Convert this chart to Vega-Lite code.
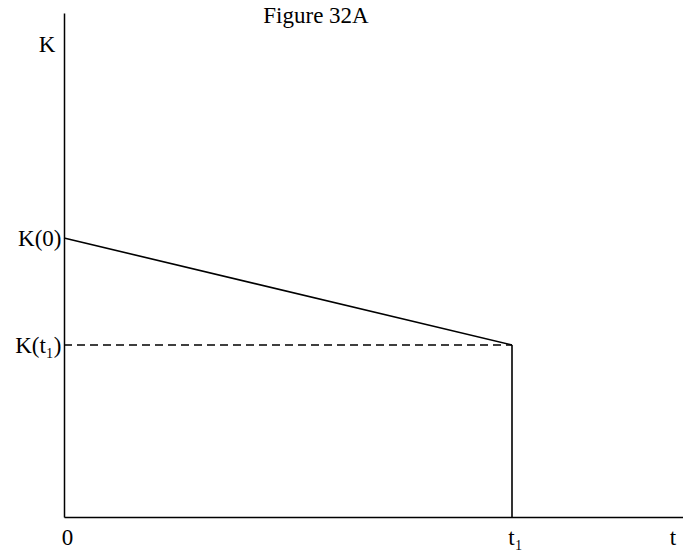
{
  "$schema": "https://vega.github.io/schema/vega-lite/v6.json",
  "width": 619,
  "height": 504,
  "autosize": {"type": "none"},
  "padding": {"left": 64, "top": 13, "right": 0, "bottom": 33},
  "background": "white",
  "config": {"view": {"stroke": null}, "font": "Liberation Serif"},
  "datasets": {
    "segs": [
      {"seg": "decline", "t0": 0, "k0": 279, "t1": 448, "k1": 172},
      {"seg": "vertical", "t0": 448, "k0": 172, "t1": 448, "k1": 0}
    ],
    "dash": [
      {"seg": "level", "t0": 0, "k0": 172, "t1": 448, "k1": 172}
    ],
    "labels": [
      {"txt": "Figure 32A", "tx": 252, "ky": 494},
      {"txt": "K", "tx": -17, "ky": 465}
    ],
    "corner": [
      {"txt": "t", "tx": 609, "ky": -32.5}
    ]
  },
  "layer": [
    {
      "data": {"name": "segs"},
      "mark": {"type": "rule", "color": "black", "strokeWidth": 1.6},
      "encoding": {
        "x": {"field": "t0", "type": "quantitative", "scale": {"domain": [0, 619], "nice": false, "zero": false},
          "axis": {"values": [0, 448], "labelExpr": "datum.value == 0 ? '0' : 't₁'", "domainColor": "black", "domainWidth": 1.5, "ticks": false, "grid": false, "labelFontSize": 23, "labelColor": "black", "labelPadding": 9, "labelFont": "Liberation Serif", "title": null, "labelOffset": 3, "labelFlush": false}},
        "y": {"field": "k0", "type": "quantitative", "scale": {"domain": [0, 504], "nice": false, "zero": false},
          "axis": {"values": [172, 279], "labelExpr": "datum.value == 279 ? 'K(0)' : 'K(t₁)'", "domainColor": "black", "domainWidth": 1.5, "ticks": false, "grid": false, "labelFontSize": 23, "labelColor": "black", "labelPadding": 3, "labelFont": "Liberation Serif", "title": null, "labelFlush": false}},
        "x2": {"field": "t1"},
        "y2": {"field": "k1"},
        "strokeWidth": {"condition": {"test": "datum.seg == 'vertical'", "value": 2.5}, "value": 1.5}
      }
    },
    {
      "data": {"name": "dash"},
      "mark": {"type": "rule", "color": "black", "strokeWidth": 1.5, "strokeDash": [8, 5]},
      "encoding": {
        "x": {"field": "t0", "type": "quantitative"},
        "y": {"field": "k0", "type": "quantitative"},
        "x2": {"field": "t1"},
        "y2": {"field": "k1"}
      }
    },
    {
      "data": {"name": "labels"},
      "mark": {"type": "text", "font": "Liberation Serif", "fontSize": 23, "color": "black", "baseline": "alphabetic", "align": "center"},
      "encoding": {
        "x": {"field": "tx", "type": "quantitative"},
        "y": {"field": "ky", "type": "quantitative"},
        "text": {"field": "txt"}
      }
    },
    {
      "data": {"name": "corner"},
      "mark": {"type": "text", "font": "Liberation Serif", "fontSize": 23, "color": "black", "baseline": "bottom", "align": "center"},
      "encoding": {
        "x": {"field": "tx", "type": "quantitative"},
        "y": {"field": "ky", "type": "quantitative"},
        "text": {"field": "txt"}
      }
    }
  ]
}
